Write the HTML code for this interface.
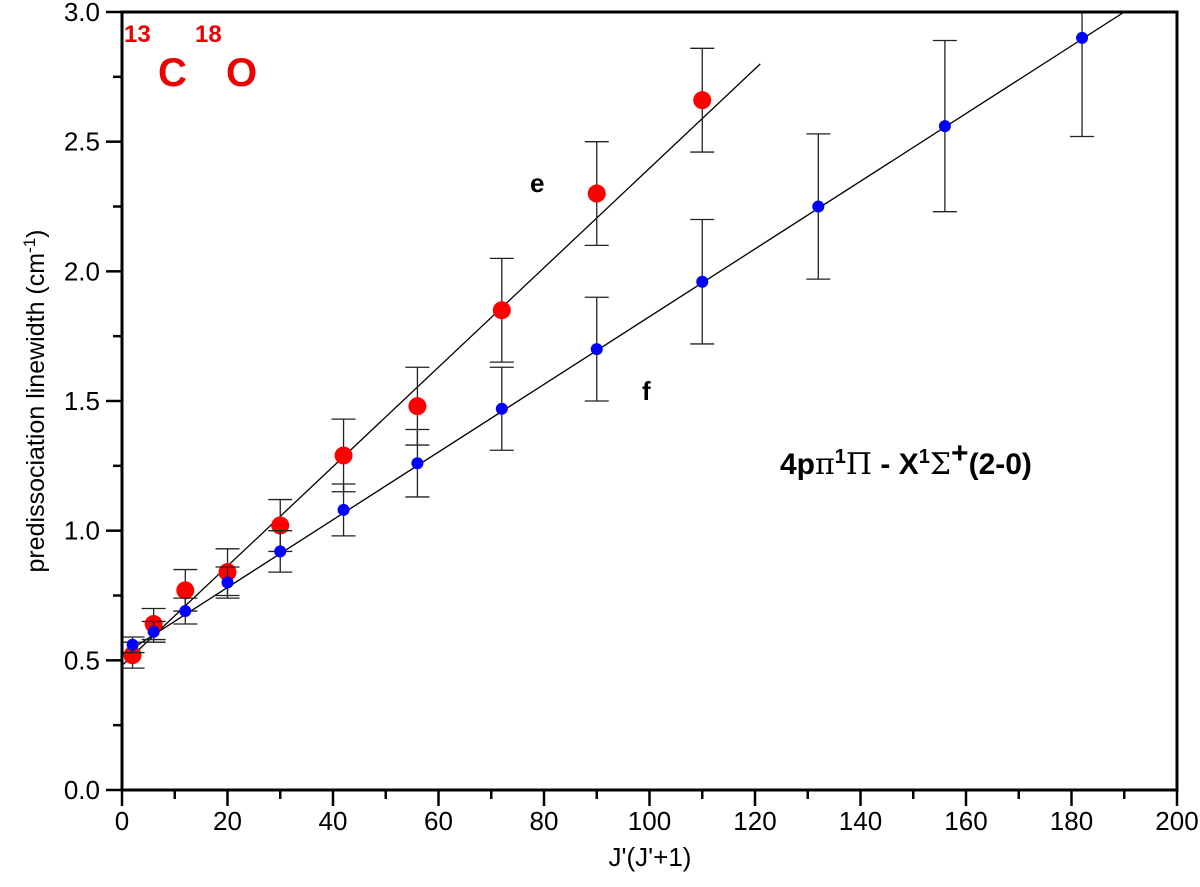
<!DOCTYPE html>
<html><head><meta charset="utf-8"><style>
body{margin:0;background:#fff}
svg{display:block;font-family:"Liberation Sans",Arial,sans-serif}
</style></head><body>
<svg id="chart" width="1200" height="887">
<g id="marks"></g>
<g id="axes"></g>
<text x="124" y="42" fill="#e00" font-size="24" font-weight="bold">13</text>
<text x="158" y="86" fill="#e00" font-size="40" font-weight="bold">C</text>
<text x="195" y="42" fill="#e00" font-size="24" font-weight="bold">18</text>
<text x="226" y="86" fill="#e00" font-size="40" font-weight="bold">O</text>
<text x="530" y="192" font-size="26" font-weight="bold">e</text>
<text x="642" y="400" font-size="26" font-weight="bold">f</text>
<text x="780" y="474" font-size="30" font-weight="bold">4p<tspan font-family="DejaVu Serif,serif" font-weight="normal">π</tspan><tspan dy="-11" font-size="20">1</tspan><tspan dy="11" font-family="DejaVu Serif,serif" font-weight="normal">Π</tspan> - X<tspan dy="-11" font-size="20">1</tspan><tspan dy="11" font-family="DejaVu Serif,serif" font-weight="normal">Σ</tspan><tspan dy="-11">+</tspan><tspan dy="11">(2-0)</tspan></text>
<text x="650" y="866" font-size="26" text-anchor="middle">J'(J'+1)</text>
<text transform="translate(44,401) rotate(-90)" font-size="25" text-anchor="middle">predissociation linewidth (cm<tspan dy="-9" font-size="17">-1</tspan><tspan dy="9">)</tspan></text>
</svg>
<script>
const eX=[2,6,12,20,30,42,56,72,90,110];
const eY=[0.52,0.64,0.77,0.84,1.02,1.29,1.48,1.85,2.30,2.66];
const eErr=[0.05,0.06,0.08,0.09,0.10,0.14,0.15,0.20,0.20,0.20];
const fX=[2,6,12,20,30,42,56,72,90,110,132,156,182];
const fY=[0.56,0.61,0.69,0.80,0.92,1.08,1.26,1.47,1.70,1.96,2.25,2.56,2.90];
const fErr=[0.03,0.04,0.05,0.06,0.08,0.10,0.13,0.16,0.20,0.24,0.28,0.33,0.38];
const eFit=[[0,0.48],[121,2.80]];
const fFit=[[0,0.52],[190,3.0]];
const xTicks=[0,20,40,60,80,100,120,140,160,180,200];
const yTicks=[0.0,0.5,1.0,1.5,2.0,2.5,3.0];
const X0=122,X1=1177,Y0=790,Y1=12;
const sx=v=>X0+(v/200)*(X1-X0), sy=v=>Y0-(v/3)*(Y0-Y1);
const NS="http://www.w3.org/2000/svg";
const marks=document.getElementById('marks'),axes=document.getElementById('axes');
function mk(tag,at,p){const e=document.createElementNS(NS,tag);for(const k in at)e.setAttribute(k,at[k]);p.appendChild(e);return e;}
const clip=mk('clipPath',{id:'pc'},marks);mk('rect',{x:X0,y:Y1,width:X1-X0,height:Y0-Y1},clip);
const g=mk('g',{'clip-path':'url(#pc)'},marks);
[eFit,fFit].forEach((f,i)=>{const l=mk('line',{x1:sx(f[0][0]),y1:sy(f[0][1]),x2:sx(f[1][0]),y2:sy(f[1][1]),stroke:'#000','stroke-width':1.3},g);

});
function series(xs,ys,er,col,r,name){xs.forEach((x,i)=>{const cx=sx(x);
const eb=mk('path',{d:`M${cx},${sy(ys[i]-er[i])}V${sy(ys[i]+er[i])}M${cx-12},${sy(ys[i]-er[i])}h24M${cx-12},${sy(ys[i]+er[i])}h24`,stroke:'#222','stroke-width':1.3,fill:'none'},g);


const c=mk('circle',{cx:cx,cy:sy(ys[i]),r:r,fill:col},g);

});}
series(eX,eY,eErr,'#f00',9,'e-branch');
series(fX,fY,fErr,'#00f',6,'f-branch');
mk('rect',{x:X0,y:Y1,width:X1-X0,height:Y0-Y1,fill:'none',stroke:'#000','stroke-width':3},axes);
xTicks.forEach((v,i)=>{const x=sx(v);mk('line',{x1:x,y1:Y0,x2:x,y2:Y0+16,stroke:'#000','stroke-width':2.5},axes);
if(i<xTicks.length-1){const m=sx(v+10);mk('line',{x1:m,y1:Y0,x2:m,y2:Y0+9,stroke:'#000','stroke-width':2.5},axes);}
const t=mk('text',{x:x,y:Y0+40,'font-size':26,'text-anchor':'middle'},axes);t.textContent=v;

});
yTicks.forEach((v,i)=>{const y=sy(v);mk('line',{x1:X0-16,y1:y,x2:X0,y2:y,stroke:'#000','stroke-width':2.5},axes);
if(i<yTicks.length-1){const m=sy(v+0.25);mk('line',{x1:X0-9,y1:m,x2:X0,y2:m,stroke:'#000','stroke-width':2.5},axes);}
const t=mk('text',{x:X0-22,y:y+9,'font-size':26,'text-anchor':'end'},axes);t.textContent=v.toFixed(1);

});
</script>
</body></html>
